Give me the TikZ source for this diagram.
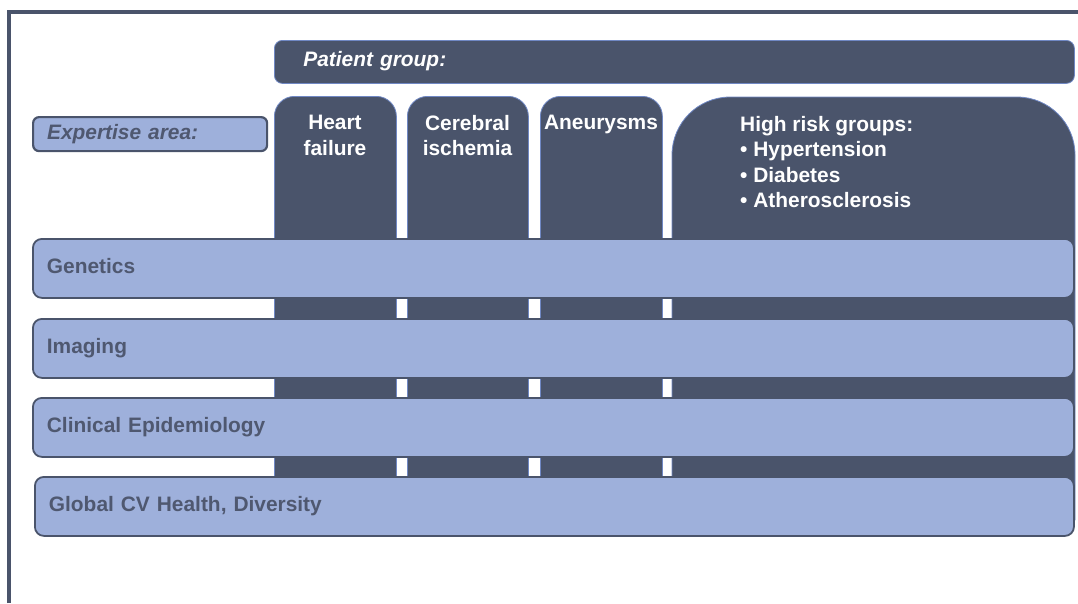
\documentclass[tikz,border=0pt]{standalone}
\usepackage{fontspec}
\setmainfont{Liberation Sans}
\definecolor{dk}{HTML}{4A546B}
\definecolor{lb}{HTML}{9EB0DB}
\definecolor{edgeblue}{HTML}{7088C4}
\definecolor{txt}{HTML}{4F5870}
\begin{document}
\begin{tikzpicture}[x=1pt,y=-1pt,
  lbl/.style={font=\fontsize{20.9}{25.5}\selectfont\bfseries},
  bar/.style={lbl, draw=dk, line width=1.8, fill=lb, rounded corners=9,
    anchor=north west, minimum height=59, inner xsep=14, inner ysep=0,
    align=left, text height=15, text depth=5, text=txt},
  colbox/.style={fill=dk, draw=edgeblue, line width=0.8, rounded corners=20,
    anchor=north west, minimum width=122, minimum height=424, inner sep=0},
  coltxt/.style={lbl, text=white, align=center, inner sep=0, anchor=north},
  frame/.style={draw=dk, line width=4}]
\useasboundingbox (0,0) rectangle (1078,603);
% outer frame
\coordinate (fb) at (9,603);
\coordinate (fc) at (9,12);
\coordinate (fr) at (1078,12);
\draw[frame] (fb) -- (fc) -- (fr);
% patient group bar
\node[lbl, fill=dk, draw=edgeblue, line width=0.8, rounded corners=8,
  anchor=north west, minimum width=800, minimum height=43, inner xsep=29,
  text width=742, align=left, text height=15, text depth=5, text=white,
  font=\fontsize{20.9}{25.5}\selectfont\bfseries\itshape] (pg) at (274,40) {Patient group:};
% columns
\node[colbox] (c1) at (274,96) {};
\node[colbox, minimum width=121] (c2) at (407,96) {};
\node[colbox] (c3) at (540,96) {};
\path[fill=dk, draw=edgeblue, line width=0.8]
  (672,520) -- (672,155) .. controls (672,123) and (698,97) .. (730,97)
  -- (1017,97) .. controls (1049,97) and (1075,123) .. (1075,155)
  -- (1075,520) -- cycle;
\coordinate (c4) at (672,97);
% column labels
\node[coltxt] (t1) at (335,115) {Heart\\failure};
\node[coltxt] (t2) at (467.5,115) {Cerebral\\ischemia};
\node[coltxt] (t3) at (601,115) {Aneurysms};
\node[lbl, text=white, align=left, inner sep=0, anchor=north west] (t4) at (740,116)
  {High risk groups:\\• Hypertension\\• Diabetes\\• Atherosclerosis};
% expertise bars
\node[bar, minimum width=1041, text width=1013] (gen) at (32,238) {Genetics};
\node[bar, minimum width=1041, text width=1013] (img) at (32,318) {Imaging};
\node[bar, minimum width=1041, text width=1013] (epi) at (32,397) {Clinical Epidemiology};
\node[bar, minimum width=1039, text width=1011] (glo) at (34,476) {Global CV Health, Diversity};
% expertise area box
\node[bar, minimum width=234, minimum height=34, text width=206, rounded corners=6,
  line width=2.2, font=\fontsize{20.9}{25.5}\selectfont\bfseries\itshape] (exp) at (32,116) {Expertise area:};
\end{tikzpicture}
\end{document}
